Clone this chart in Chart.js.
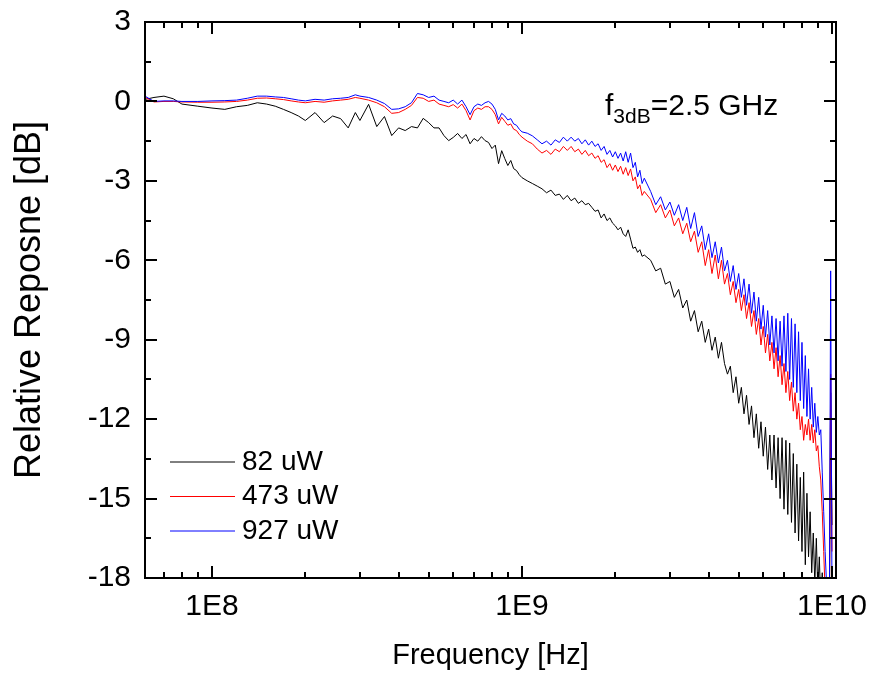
<!DOCTYPE html>
<html>
<head>
<meta charset="utf-8">
<script src="https://cdn.jsdelivr.net/npm/chart.js@4.4.0/dist/chart.umd.min.js"></script>
<style>
  html, body { margin: 0; padding: 0; background: #fff; }
  #responseChart { display: block; }
</style>
</head>
<body>
<canvas id="responseChart" width="873" height="673"></canvas>
<script>
// frequency points (MHz)
const freqMHz = [
  61, 65, 70, 75, 80, 90, 100, 110, 120, 130, 140, 150, 160, 170, 180, 190, 200, 215, 230, 245, 260, 275, 290,
  300, 320, 340, 360, 380, 400, 420, 440, 460, 480, 500, 520, 540, 560, 580, 600, 620, 640, 660, 680,
  700, 720, 740, 760, 780, 800, 820, 840, 860, 880, 900, 920, 940, 960, 980, 1000,
  1040, 1080, 1120, 1160, 1200, 1240, 1280, 1320, 1360, 1400, 1440, 1480, 1520, 1560, 1600, 1640, 1680,
  1720, 1760, 1800, 1840, 1880, 1920, 1960, 2000, 2040, 2080, 2120, 2160, 2200, 2240, 2280, 2320, 2360,
  2400, 2440, 2480,
  2600, 2700, 2800, 2900, 3000, 3100, 3200, 3300, 3400, 3500, 3600, 3700, 3800, 3900, 4000, 4100, 4200,
  4300, 4400, 4500, 4600, 4700, 4800, 4900, 5000, 5100, 5200, 5300, 5400, 5500, 5600, 5700, 5800, 5900,
  6000, 6100, 6200, 6300, 6400, 6500, 6600, 6700, 6800, 6900, 7000, 7100, 7200, 7300, 7400, 7500, 7600,
  7700, 7800, 7900, 8000, 8100, 8200, 8300, 8400, 8500, 8600, 8700, 8800, 8900, 9000, 9100, 9200, 9300,
  9400, 9500, 9600, 9700, 9800, 9900, 10000
];

// 82 uW
const resp82 = [
  0.08, 0.15, 0.2, 0.1, -0.1, -0.18, -0.25, -0.3, -0.2, -0.15, -0.05, -0.1, -0.18, -0.3, -0.42, -0.55, -0.72, -0.42, -0.8, -0.55, -0.65, -1.0, -0.42,
  -0.72, -0.11, -0.95, -0.57, -1.29, -1.0, -1.1, -0.95, -1.0, -0.64, -0.8, -1.0, -1.0, -1.29, -1.48, -1.36, -1.21, -1.4, -1.25, -1.6,
  -1.4, -1.5, -1.33, -1.48, -1.55, -1.78, -1.65, -2.35, -1.86, -2.16, -2.42, -2.23, -2.54, -2.61, -2.77, -2.88,
  -3.0, -3.1, -3.2, -3.3, -3.45, -3.35, -3.55, -3.5, -3.7, -3.55, -3.75, -3.65, -3.85, -3.75, -3.9, -3.85, -4.0,
  -4.15, -4.1, -4.4, -4.25, -4.5, -4.4, -4.6, -4.7, -4.85, -4.75, -5.0, -5.1, -4.85, -5.2, -5.55, -5.5, -5.7,
  -5.6, -5.85, -5.8,
  -6.0, -6.4, -6.3, -6.9, -6.8, -7.4, -7.1, -7.8, -7.5, -8.3, -7.9, -8.7, -8.3, -9.1, -8.6, -9.4, -8.9,
  -9.7, -9.1, -9.9, -10.3, -10.0, -11.0, -10.4, -11.4, -10.8, -11.8, -11.1, -12.2, -11.5, -12.7, -11.8, -13.1, -12.1,
  -13.4, -12.3, -13.9, -12.6, -14.3, -12.6, -14.6, -12.7, -15.0, -12.7, -15.4, -12.8, -15.6, -12.9, -15.9, -13.3, -16.3,
  -13.7, -16.6, -14.2, -17.0, -14.0, -17.5, -14.8, -17.2, -15.5, -17.8, -16.3, -18.2, -16.5, -18.5, -17.2, -19, -17.8,
  -20, -20, -20, -20, -20, -11, -16
];

// 473 uW
const resp473 = [
  0.15, -0.02, 0.0, 0.0, -0.02, -0.03, -0.03, -0.02, 0.0, 0.05, 0.12, 0.13, 0.1, 0.07, 0.02, -0.02, -0.05, 0.0, -0.03, 0.02, 0.05, 0.08, 0.15,
  0.12, 0.05, -0.05, -0.2, -0.45, -0.42, -0.3, -0.15, 0.15, 0.12, 0.0, 0.05, -0.1, -0.15, -0.2, -0.12, -0.25, -0.1, -0.35, -0.7,
  -0.35, -0.25, -0.3, -0.2, -0.2, -0.3, -0.5, -0.85, -0.6, -0.75, -0.9, -0.85, -1.05, -1.1, -1.25, -1.35,
  -1.5, -1.6, -1.8, -1.95, -1.85, -2.0, -1.8, -1.9, -1.7, -1.85, -1.7, -1.9, -1.8, -2.0, -1.85, -2.05, -1.95,
  -2.15, -2.05, -2.3, -2.2, -2.5, -2.35, -2.6, -2.4, -2.65, -2.45, -2.75, -2.5, -2.8, -2.55, -3.0, -2.85, -3.3,
  -3.15, -3.55, -3.4,
  -3.7, -4.2, -3.9, -4.4, -4.1, -4.7, -4.4, -5.0, -4.6, -5.3, -4.9, -5.7, -5.3, -6.2, -5.6, -6.5, -5.8,
  -6.7, -6.0, -6.9, -6.5, -7.3, -6.8, -7.6, -7.1, -7.9, -7.3, -8.2, -7.6, -8.5, -7.9, -8.8, -8.2, -9.2,
  -8.5, -9.5, -8.8, -9.8, -9.1, -10.1, -9.3, -10.4, -9.6, -10.7, -9.9, -11.0, -10.2, -11.3, -10.6, -11.7, -11.0,
  -12.0, -11.4, -12.4, -11.9, -12.8, -12.2, -12.6, -12.0, -12.8, -12.2, -12.9, -12.4, -13.2, -13.0, -13.8, -14.3, -15.5,
  -17.0, -18.5, -20, -20, -20, -10.3, -17
];

// 927 uW
const resp927 = [
  0.19, 0.0, 0.02, 0.02, 0.0, 0.0, 0.02, 0.03, 0.05, 0.12, 0.2, 0.2, 0.17, 0.15, 0.1, 0.05, 0.02, 0.08, 0.05, 0.1, 0.12, 0.15, 0.25,
  0.2, 0.15, 0.05, -0.08, -0.3, -0.28, -0.2, -0.05, 0.3, 0.25, 0.15, 0.2, 0.05, 0.0, -0.05, 0.05, -0.1, 0.05, -0.2, -0.5,
  -0.2, -0.1, -0.15, -0.05, 0.0, -0.1, -0.3, -0.7, -0.45, -0.55, -0.7, -0.65, -0.85, -0.9, -1.05, -1.15,
  -1.2, -1.3, -1.45, -1.6, -1.5, -1.65, -1.45, -1.55, -1.35, -1.5, -1.35, -1.5, -1.4, -1.6, -1.45, -1.65, -1.5,
  -1.7, -1.6, -1.85, -1.7, -2.0, -1.85, -2.1, -1.9, -2.15, -1.95, -2.25, -1.9, -2.3, -1.95, -2.5, -2.3, -2.85,
  -2.6, -3.1, -2.9,
  -3.4, -3.9, -3.6, -4.1, -3.8, -4.3, -3.9, -4.5, -4.0, -4.8, -4.2, -5.1, -4.7, -5.6, -5.0, -5.9, -5.3,
  -6.1, -5.5, -6.4, -6.0, -6.8, -6.2, -7.1, -6.5, -7.4, -6.7, -7.7, -6.9, -8.0, -7.2, -8.3, -7.4, -8.6,
  -7.7, -8.9, -7.9, -9.2, -8.1, -9.5, -8.2, -9.8, -8.3, -10.0, -8.1, -10.2, -8.0, -10.5, -8.2, -10.8, -8.4,
  -11.0, -8.7, -11.3, -9.1, -11.6, -9.6, -11.9, -10.1, -12.0, -10.8, -12.3, -11.4, -12.5, -11.9, -12.6, -12.4, -14.0,
  -15.5, -17.0, -18.2, -20, -20, -6.4, -19
];

const seriesLabels = ['82 uW', '473 uW', '927 uW'];
const seriesColors = ['#000000', '#ff0000', '#0000ff'];
const xTickValues = [1e8, 1e9, 1e10];
const yTickStep = 3;

const FONT = "'Liberation Sans', Arial, sans-serif";

function toPoints(values) {
  return freqMHz.map((f, i) => ({ x: f * 1e6, y: values[i] }));
}

// frame, inward ticks on all four sides, legend and the f3dB note
const framePlugin = {
  id: 'framePlugin',
  afterDraw(chart) {
    const { ctx, chartArea: { left, right, top, bottom }, scales: { x, y } } = chart;
    ctx.save();
    ctx.strokeStyle = '#000';
    ctx.lineWidth = 2;
    ctx.strokeRect(left, top, right - left, bottom - top);

    ctx.beginPath();
    for (let d = 7; d <= 10; d++) {
      for (let m = 1; m <= 9; m++) {
        const v = m * Math.pow(10, d);
        if (v < x.min || v > x.max) continue;
        const px = Math.round(x.getPixelForValue(v));
        const len = m === 1 ? 12 : 6;
        ctx.moveTo(px, bottom); ctx.lineTo(px, bottom - len);
        ctx.moveTo(px, top); ctx.lineTo(px, top + len);
      }
    }
    for (let v = y.min; v <= y.max; v += yTickStep / 2) {
      const py = Math.round(y.getPixelForValue(v));
      const len = (v % yTickStep === 0) ? 12 : 6;
      ctx.moveTo(left, py); ctx.lineTo(left + len, py);
      ctx.moveTo(right, py); ctx.lineTo(right - len, py);
    }
    ctx.stroke();

    // legend
    ctx.font = '28px ' + FONT;
    ctx.textBaseline = 'middle';
    ctx.textAlign = 'left';
    chart.data.datasets.forEach((ds, i) => {
      const ly = 462 + i * 34.5;
      ctx.strokeStyle = ds.borderColor;
      ctx.lineWidth = 1;
      ctx.beginPath();
      ctx.moveTo(170, ly);
      ctx.lineTo(235, ly);
      ctx.stroke();
      ctx.fillStyle = '#000';
      ctx.fillText(ds.label, 242, ly);
    });

    // f3dB annotation
    ctx.textBaseline = 'alphabetic';
    ctx.fillStyle = '#000';
    let tx = 605;
    ctx.font = '30px ' + FONT;
    ctx.fillText('f', tx, 115);
    tx += ctx.measureText('f').width;
    ctx.font = '21px ' + FONT;
    ctx.fillText('3dB', tx, 123);
    tx += ctx.measureText('3dB').width;
    ctx.font = '30px ' + FONT;
    ctx.fillText('=2.5 GHz', tx, 115);
    ctx.restore();
  }
};

new Chart(document.getElementById('responseChart'), {
  type: 'line',
  data: {
    datasets: [
      { label: seriesLabels[0], data: toPoints(resp82), borderColor: seriesColors[0], order: 2 },
      { label: seriesLabels[1], data: toPoints(resp473), borderColor: seriesColors[1], order: 1 },
      { label: seriesLabels[2], data: toPoints(resp927), borderColor: seriesColors[2], order: 0 }
    ]
  },
  options: {
    responsive: false,
    animation: false,
    layout: { padding: { top: 22, right: 37, left: 0, bottom: 0 } },
    elements: {
      line: { borderWidth: 1, tension: 0, fill: false },
      point: { radius: 0 }
    },
    plugins: {
      legend: { display: false },
      tooltip: { enabled: false }
    },
    scales: {
      x: {
        type: 'logarithmic',
        min: 6.08e7,
        max: 1.03e10,
        grid: { display: false, drawTicks: false },
        border: { display: false },
        afterBuildTicks: (scale) => { scale.ticks = xTickValues.map(v => ({ value: v })); },
        afterFit: (scale) => {
          scale.height = 95;
          scale.paddingLeft = 0;
          scale.paddingRight = 0;
        },
        ticks: {
          autoSkip: false,
          maxRotation: 0,
          padding: 11,
          color: '#000',
          font: { family: FONT, size: 30 },
          callback: (v) => '1E' + Math.round(Math.log10(v))
        },
        title: {
          display: true,
          text: 'Frequency [Hz]',
          color: '#000',
          font: { family: FONT, size: 29 },
          padding: { top: 0, bottom: 0 }
        }
      },
      y: {
        min: -18,
        max: 3,
        grid: { display: false, drawTicks: false },
        border: { display: false },
        afterFit: (scale) => {
          scale.width = 145;
          scale.paddingTop = 0;
          scale.paddingBottom = 0;
        },
        ticks: {
          stepSize: yTickStep,
          padding: 14,
          color: '#000',
          font: { family: FONT, size: 30 }
        },
        title: {
          display: true,
          text: 'Relative Reposne [dB]',
          color: '#000',
          font: { family: FONT, size: 36 },
          padding: { top: 8, bottom: 0 }
        }
      }
    }
  },
  plugins: [framePlugin]
});
</script>
</body>
</html>
